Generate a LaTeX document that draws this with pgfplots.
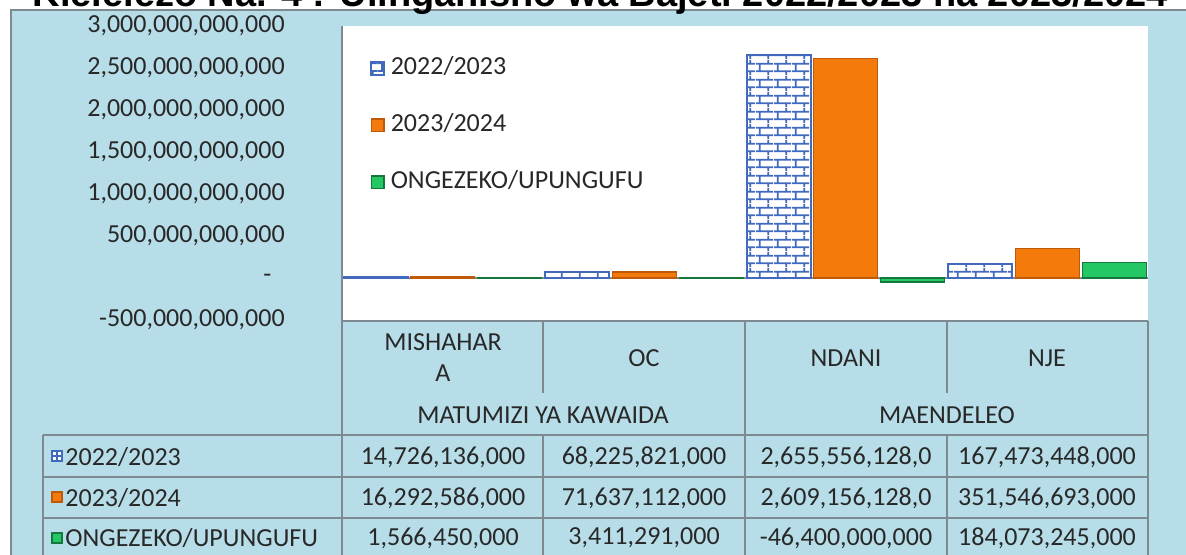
\documentclass[border=0pt]{standalone}
\usepackage{pgfplots}
\pgfplotsset{compat=1.18}
\usepackage{fontspec}
\setmainfont{Carlito}
\newfontfamily\titlefont{Liberation Sans}
\usetikzlibrary{patterns}

\definecolor{bgblue}{RGB}{183,221,232}
\definecolor{gridgray}{RGB}{125,138,145}
\definecolor{txt}{RGB}{40,40,40}
\definecolor{brickblue}{RGB}{65,105,190}
\definecolor{orangefill}{RGB}{245,122,12}
\definecolor{orangedraw}{RGB}{190,90,10}
\definecolor{greenfill}{RGB}{35,200,100}
\definecolor{greendraw}{RGB}{20,120,60}

\pgfdeclarepatternformonly{mybricks}{\pgfpointorigin}{\pgfqpoint{9pt}{8pt}}{\pgfqpoint{9pt}{8pt}}{
 \pgfsetlinewidth{0.9pt}
 \pgfpathmoveto{\pgfqpoint{0pt}{2pt}}\pgfpathlineto{\pgfqpoint{9pt}{2pt}}
 \pgfpathmoveto{\pgfqpoint{0pt}{6pt}}\pgfpathlineto{\pgfqpoint{9pt}{6pt}}
 \pgfpathmoveto{\pgfqpoint{2pt}{2pt}}\pgfpathlineto{\pgfqpoint{2pt}{6pt}}
 \pgfpathmoveto{\pgfqpoint{6.5pt}{6pt}}\pgfpathlineto{\pgfqpoint{6.5pt}{8pt}}
 \pgfpathmoveto{\pgfqpoint{6.5pt}{0pt}}\pgfpathlineto{\pgfqpoint{6.5pt}{2pt}}
 \pgfusepath{stroke}
}

\newcommand{\tf}{\fontsize{13}{15}\selectfont}

\begin{document}
\begin{tikzpicture}
\begin{scope}[x=0.5pt,y=-0.5pt]
 \fill[bgblue] (11,10) rectangle (1200,560);
 \draw[gridgray, line width=1pt] (11,560) -- (11,10) -- (1200,10);
 \node[font=\titlefont\bfseries\fontsize{19}{22}\selectfont, anchor=base east, inner sep=0pt] at (1168,6.5) {Kielelezo Na. 4 : Ulinganisho wa Bajeti 2022/2023 na 2023/2024};
\end{scope}

\begin{axis}[
 at={(171pt,-13pt)}, anchor=north west,
 width=403pt, height=147pt, scale only axis,
 xmin=-0.5, xmax=3.5, ymin=-500e9, ymax=3000e9,
 axis background/.style={fill=white},
 axis line style={draw=none},
 xtick=\empty,
 scaled y ticks=false,
 ytick={-500e9,0,500e9,1000e9,1500e9,2000e9,2500e9,3000e9},
 yticklabels={{-500,000,000,000},{-\hphantom{0}},{500,000,000,000},{1,000,000,000,000},{1,500,000,000,000},{2,000,000,000,000},{2,500,000,000,000},{3,000,000,000,000}},
 major tick length=0pt,
 yticklabel style={anchor=east, inner sep=0pt, xshift=-28.5pt, font=\tf, text=txt},
 ybar=1.5pt, bar width=32pt,
 mylegend/.style={legend image code/.code={\draw[##1] (0pt,-3.2pt) rectangle (6.4pt,3.2pt);}},
 legend style={at={(axis description cs:0.0347,0.905)}, anchor=north west, draw=none, fill=none, font=\tf, text=txt, inner sep=0pt, row sep=14.5pt, nodes={inner sep=1pt, text height=9pt, text depth=3pt}},
 legend cell align=left,
]
\draw[gridgray, line width=1pt] (axis cs:-0.5,0) -- (axis cs:3.5,0);
\addplot[fill=white, draw=brickblue, line width=0.8pt, postaction={pattern=mybricks, pattern color=brickblue}, mylegend]
 coordinates {(0,14.726136e9) (1,68.225821e9) (2,2655.556128e9) (3,167.473448e9)};
\addlegendentry{\hspace{2pt}2022/2023}
\addplot[fill=orangefill, draw=orangedraw, line width=0.6pt, mylegend]
 coordinates {(0,16.292586e9) (1,71.637112e9) (2,2609.156128e9) (3,351.546693e9)};
\addlegendentry{\hspace{2pt}2023/2024}
\addplot[fill=greenfill, draw=greendraw, line width=0.6pt, mylegend]
 coordinates {(0,1.56645e9) (1,3.411291e9) (2,-46.4e9) (3,184.073245e9)};
\addlegendentry{\hspace{2pt}ONGEZEKO/UPUNGUFU}
\end{axis}

\begin{scope}[x=0.5pt,y=-0.5pt, every node/.style={font=\tf, text=txt}]
 \draw[gridgray, line width=1pt] (342,26) -- (342,560);
 \draw[gridgray, line width=1pt] (745,321) -- (745,560);
 \draw[gridgray, line width=1pt] (1148,321) -- (1148,560);
 \draw[gridgray, line width=1pt] (543,321) -- (543,393);
 \draw[gridgray, line width=1pt] (947,321) -- (947,393);
 \draw[gridgray, line width=1pt] (543,435) -- (543,560);
 \draw[gridgray, line width=1pt] (947,435) -- (947,560);
 \draw[gridgray, line width=1pt] (342,321) -- (1148,321);
 \draw[gridgray, line width=1pt] (43,435) -- (1148,435);
 \draw[gridgray, line width=1pt] (43,477) -- (1148,477);
 \draw[gridgray, line width=1pt] (43,518) -- (1148,518);
 \draw[gridgray, line width=1pt] (43,435) -- (43,560);
 % header
 \node at (443,342) {MISHAHAR};
 \node at (443,373) {A};
 \node at (644,358) {OC};
 \node at (846,358) {NDANI};
 \node at (1047,358) {NJE};
 \node at (543,415) {MATUMIZI YA KAWAIDA};
 \node at (947,415) {MAENDELEO};
 % row markers
 \draw[brickblue, fill=white, line width=0.8pt] (52,451) rectangle (62,461);
 \draw[brickblue, line width=0.6pt] (52,456) -- (62,456) (57,451) -- (57,461);
 \draw[orangedraw, fill=orangefill, line width=0.6pt] (52,492) rectangle (62,502);
 \draw[greendraw, fill=greenfill, line width=0.6pt] (52,533) rectangle (62,543);
 \node[anchor=west, inner sep=0pt] at (65,457) {2022/2023};
 \node[anchor=west, inner sep=0pt] at (65,498) {2023/2024};
 \node[anchor=west, inner sep=0pt] at (65,538) {ONGEZEKO/UPUNGUFU};
 % values
 \node at (443,457) {14,726,136,000};
 \node at (644,457) {68,225,821,000};
 \node at (846,457) {2,655,556,128,0};
 \node at (1047,457) {167,473,448,000};
 \node at (443,498) {16,292,586,000};
 \node at (644,498) {71,637,112,000};
 \node at (846,498) {2,609,156,128,0};
 \node at (1047,498) {351,546,693,000};
 \node at (443,538) {1,566,450,000};
 \node at (644,538) {3,411,291,000};
 \node at (846,538) {-46,400,000,000};
 \node at (1047,538) {184,073,245,000};
 \pgfresetboundingbox
 \useasboundingbox (0,0) rectangle (1186,554);
\end{scope}
\end{tikzpicture}
\end{document}
